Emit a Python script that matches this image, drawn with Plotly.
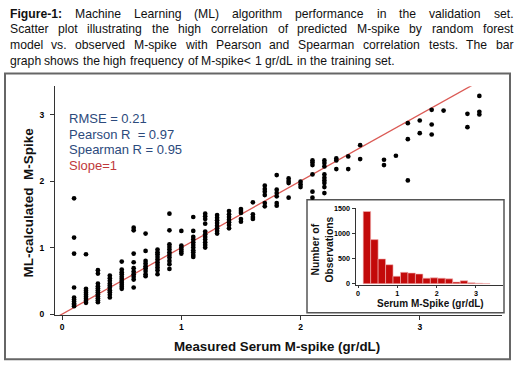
import plotly.graph_objects as go

# ---------------- data ----------------
measured_levels = [0.1, 0.2, 0.3, 0.4, 0.5, 0.6, 0.7, 0.8, 0.9, 1.0, 1.1, 1.2, 1.3, 1.4,
                   1.5, 1.6, 1.7, 1.8, 1.9, 2.0, 2.1, 2.2, 2.3, 2.4, 2.5, 2.7, 2.8, 2.9,
                   3.0, 3.1, 3.2, 3.4, 3.5]
predicted_by_level = [
    [1.74, 1.15, 0.91, 0.40, 0.25, 0.22, 0.19, 0.16, 0.14, 0.12],
    [0.90, 0.38, 0.35, 0.32, 0.29, 0.26, 0.23, 0.20, 0.17],
    [0.66, 0.61, 0.46, 0.42, 0.39, 0.36, 0.33, 0.30, 0.27, 0.24, 0.21, 0.18],
    [0.58, 0.54, 0.50, 0.46, 0.43, 0.40, 0.36, 0.33, 0.29, 0.25],
    [0.79, 0.67, 0.63, 0.60, 0.56, 0.53, 0.50, 0.47, 0.44, 0.41, 0.38],
    [1.30, 1.26, 0.91, 0.78, 0.69, 0.64, 0.60, 0.56, 0.52, 0.40],
    [1.21, 0.95, 0.80, 0.76, 0.72, 0.69, 0.65, 0.60, 0.57],
    [0.97, 0.93, 0.90, 0.86, 0.82, 0.78, 0.74, 0.70, 0.66, 0.60],
    [1.51, 1.26, 1.05, 1.01, 0.97, 0.93, 0.89, 0.85, 0.80, 0.75, 0.68],
    [1.25, 1.03, 1.00, 0.97, 0.94, 0.91],
    [1.46, 1.25, 1.16, 1.12, 1.08, 1.04, 1.00, 0.96, 0.93, 0.89, 0.86],
    [1.51, 1.47, 1.43, 1.36, 1.24, 1.20, 1.16, 1.12, 1.08, 1.04, 1.00],
    [1.49, 1.45, 1.41, 1.37, 1.33, 1.29, 1.25, 1.21],
    [1.55, 1.50, 1.46, 1.42, 1.38, 1.34, 1.29],
    [1.58, 1.55, 1.52, 1.43, 1.39],
    [1.68, 1.50, 1.46, 1.43],
    [1.93, 1.88, 1.84, 1.79, 1.67, 1.62],
    [2.09, 1.87, 1.82, 1.77, 1.67, 1.63],
    [2.04, 2.00, 1.97, 1.75],
    [1.99, 1.95, 1.91],
    [2.31, 2.28, 2.24, 2.10, 1.84, 1.75],
    [2.31, 2.27, 2.22, 2.10, 2.05, 2.01, 1.97, 1.91, 1.82],
    [2.34, 2.31, 2.18],
    [2.37, 2.18],
    [2.54, 2.33],
    [2.32, 2.24],
    [2.38],
    [2.87, 2.63, 2.01],
    [2.91, 2.72],
    [3.07, 2.85, 2.70],
    [3.06],
    [3.01, 2.81],
    [3.28, 3.04, 3.00],
]

hist_bin_centers = [0.225, 0.415, 0.605, 0.795, 0.985, 1.175, 1.365, 1.555, 1.745,
                    1.935, 2.125, 2.315, 2.505, 2.695, 2.885, 3.075, 3.265]
hist_counts = [1440, 880, 495, 380, 150, 228, 215, 195, 112, 118, 112, 98, 35, 60, 20, 12, 6]

x_ticks = [0, 1, 2, 3]
y_ticks = [0, 1, 2, 3]
inset_x_ticks = [0, 1, 2, 3]
inset_y_ticks = [0, 500, 1000, 1500]

stats_lines = ["RMSE = 0.21", "Pearson R\u00a0 = 0.97", "Spearman R = 0.95", "Slope=1"]

caption_lines = [
    "Figure-1: Machine Learning (ML) algorithm performance in the validation set.",
    "Scatter plot illustrating the high correlation of predicted M-spike by random forest",
    "model vs. observed M-spike with Pearson and Spearman correlation tests. The bar",
    "graph shows the high frequency of M-spike< 1 gr/dL in the training set.",
]

# ---------------- layout helpers ----------------
W, H = 520, 370
FONT = "Liberation Sans, Arial, Helvetica, sans-serif"


def px(x):
    return x / W


def py(y):
    return 1 - y / H


REG = {' ': 278, '(': 333, ')': 333, ',': 278, '-': 333, '.': 278, '/': 278, ':': 278,
       '<': 584, '=': 584}
for c in "0123456789":
    REG[c] = 556
REG.update(dict(zip("ABCDEFGHIJKLMNOPQRSTUVWXYZ",
                    [667, 667, 722, 722, 667, 611, 778, 722, 278, 500, 667, 556, 833,
                     722, 778, 667, 778, 722, 667, 611, 722, 667, 944, 667, 667, 611])))
REG.update(dict(zip("abcdefghijklmnopqrstuvwxyz",
                    [556, 556, 500, 556, 556, 278, 556, 556, 222, 222, 500, 222, 833,
                     556, 556, 556, 556, 333, 500, 278, 556, 500, 722, 500, 500, 500])))
BOLD = {'F': 611, 'i': 278, 'g': 611, 'u': 611, 'r': 389, 'e': 556, '-': 333, '1': 556,
        ':': 333, ' ': 278}


def tw(s, size, bold=False):
    t = BOLD if bold else REG
    return sum(t.get(c, 556) for c in s) * size / 1000.0


# ---------------- figure ----------------
xs, ys = [], []
for lvl, vals in zip(measured_levels, predicted_by_level):
    for v in vals:
        xs.append(lvl)
        ys.append(v)

fig = go.Figure()

fig.add_trace(go.Scatter(
    x=[-0.06, 3.7], y=[-0.06, 3.7], mode="lines",
    line=dict(color="#DB5A55", width=1.3), xaxis="x", yaxis="y",
    hoverinfo="skip", showlegend=False))

fig.add_trace(go.Scatter(
    x=xs, y=ys, mode="markers",
    marker=dict(color="black", size=4.7, line=dict(width=0)),
    xaxis="x", yaxis="y", showlegend=False))

fig.add_trace(go.Bar(
    x=hist_bin_centers, y=hist_counts, width=0.19,
    marker=dict(color="#C30A0A", line=dict(color="#F2B8B8", width=0.6)),
    xaxis="x2", yaxis="y2", showlegend=False))

tickfont_main = dict(family=FONT, size=8.5, color="black", weight="bold")
tickfont_inset = dict(family=FONT, size=7.2, color="black", weight="bold")

fig.update_layout(
    width=W, height=H, autosize=False,
    margin=dict(l=0, r=0, t=0, b=0, pad=0),
    paper_bgcolor="white", plot_bgcolor="rgba(0,0,0,0)",
    font=dict(family=FONT, color="black"),
    xaxis=dict(domain=[px(55), px(502)], range=[-0.06, 3.69], tickvals=x_ticks,
               ticks="outside", ticklen=4, tickcolor="#333", showline=True,
               linecolor="#333", linewidth=1, showgrid=False, zeroline=False,
               tickfont=tickfont_main, anchor="y", fixedrange=True),
    yaxis=dict(domain=[py(318), py(84)], range=[-0.015, 3.426], tickvals=y_ticks,
               ticks="outside", ticklen=4, tickcolor="#333", showline=True,
               linecolor="#333", linewidth=1, showgrid=False, zeroline=False,
               tickfont=tickfont_main, anchor="x", ticklabelstandoff=4, fixedrange=True),
    xaxis2=dict(domain=[px(355.5), px(503)], range=[-0.066, 3.69], tickvals=inset_x_ticks,
                ticks="outside", ticklen=2, tickcolor="#333", showline=True,
                linecolor="#333", linewidth=1, showgrid=False, zeroline=False,
                tickfont=tickfont_inset, anchor="y2", fixedrange=True),
    yaxis2=dict(domain=[py(287), py(209)], range=[-20, 1500], tickvals=inset_y_ticks,
                ticks="outside", ticklen=3, tickcolor="#333", showline=True,
                linecolor="#333", linewidth=1, showgrid=False, zeroline=False,
                tickfont=tickfont_inset, anchor="x2", fixedrange=True),
    bargap=0,
)

shapes = [
    # outer frame
    dict(type="rect", xref="paper", yref="paper", x0=px(5), x1=px(510), y0=py(363), y1=py(71),
         line=dict(color="#666", width=2), fillcolor="rgba(0,0,0,0)", layer="below"),
    # inset frame
    dict(type="rect", xref="paper", yref="paper", x0=px(307), x1=px(504), y0=py(315.5), y1=py(200),
         line=dict(color="#555", width=1.5), fillcolor="white", layer="below"),
]
fig.update_layout(shapes=shapes)

ann = []
# caption (justified)
CAP_SIZE = 12.2
left, right = 9.5, 513.5
line_y = [10, 26, 42, 58]
for li, line in enumerate(caption_lines):
    words = line.split(" ")
    bolds = [li == 0 and wi == 0 for wi in range(len(words))]
    widths = [tw(w, CAP_SIZE, b) for w, b in zip(words, bolds)]
    if li < 3:
        gap = (right - left - sum(widths)) / (len(words) - 1)
    else:
        gap = tw(" ", CAP_SIZE) * 1.1
    x = left
    for w, b, wd in zip(words, bolds, widths):
        ann.append(dict(x=px(x), y=py(line_y[li]), xref="paper", yref="paper",
                        text=f"<b>{w}</b>" if b else w, showarrow=False,
                        xanchor="left", yanchor="middle", borderpad=0, borderwidth=0,
                        font=dict(family=FONT, size=CAP_SIZE, color="#111")))
        x += wd + gap

# stats text
stat_colors = ["#2C4A7C", "#2C4A7C", "#2C4A7C", "#C0393B"]
for i, (t, c) in enumerate(zip(stats_lines, stat_colors)):
    ann.append(dict(x=px(69), y=py(117 + 16 * i), xref="paper", yref="paper", text=t,
                    showarrow=False, xanchor="left", yanchor="middle", borderpad=0,
                    borderwidth=0, font=dict(family=FONT, size=13, color=c)))

# main axis titles
ann.append(dict(x=px(29), y=py(203), xref="paper", yref="paper",
                text="<b>ML-calculated\u00a0 M-Spike</b>", textangle=-90, showarrow=False,
                xanchor="center", yanchor="middle",
                font=dict(family=FONT, size=13.5, color="#111")))
ann.append(dict(x=px(277), y=py(350), xref="paper", yref="paper",
                text="<b>Measured Serum M-spike (gr/dL)</b>", showarrow=False,
                xanchor="center", yanchor="middle",
                font=dict(family=FONT, size=13.3, color="#111")))

# inset axis titles
ann.append(dict(x=px(322), y=py(251), xref="paper", yref="paper",
                text="<b>Number of<br>Observations</b>", textangle=-90, showarrow=False,
                xanchor="center", yanchor="middle",
                font=dict(family=FONT, size=10.3, color="#111")))
ann.append(dict(x=px(430), y=py(306.5), xref="paper", yref="paper",
                text="<b>Serum M-Spike (gr/dL)</b>", showarrow=False,
                xanchor="center", yanchor="middle", borderpad=0, borderwidth=0,
                font=dict(family=FONT, size=10, color="#111")))

fig.update_layout(annotations=ann)

fig.write_html("out.html", config={"displayModeBar": False, "staticPlot": True},
               post_script="document.body.style.margin='0';document.body.style.padding='0';")
